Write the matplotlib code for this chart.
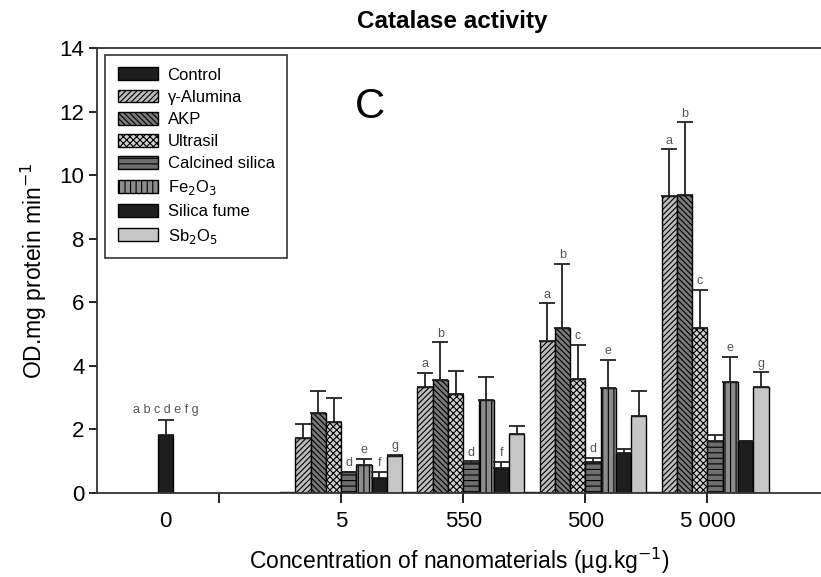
import matplotlib.pyplot as plt
import numpy as np

plt.rcParams['font.family'] = ['Liberation Sans', 'DejaVu Sans']
plt.rcParams['hatch.linewidth'] = 0.8

# concentrations (x tick labels) and series
concentrations = ['0', '5', '550', '500', '5 000']
group_pos = [1, 2, 3, 4, 5]

control = [1.83, 0.03, 0.03, 0.04, 0.03]
control_err = [0.47, 0, 0, 0, 0]

treatments = ['γ-Alumina', 'AKP', 'Ultrasil', 'Calcined silica',
              'Fe$_2$O$_3$', 'Silica fume', 'Sb$_2$O$_5$']
means = {
    'γ-Alumina':       [1.72, 3.32, 4.79, 9.35],
    'AKP':             [2.51, 3.56, 5.18, 9.39],
    'Ultrasil':        [2.22, 3.11, 3.60, 5.18],
    'Calcined silica': [0.67, 0.93, 0.98, 1.64],
    'Fe$_2$O$_3$':     [0.87, 2.92, 3.30, 3.50],
    'Silica fume':     [0.48, 0.78, 1.27, 1.64],
    'Sb$_2$O$_5$':     [1.17, 1.87, 2.43, 3.32],
}
errs = {
    'γ-Alumina':       [0.45, 0.46, 1.18, 1.47],
    'AKP':             [0.69, 1.18, 2.03, 2.27],
    'Ultrasil':        [0.78, 0.74, 1.07, 1.22],
    'Calcined silica': [0.00, 0.07, 0.12, 0.19],
    'Fe$_2$O$_3$':     [0.21, 0.72, 0.89, 0.79],
    'Silica fume':     [0.19, 0.20, 0.11, 0.00],
    'Sb$_2$O$_5$':     [0.03, 0.24, 0.77, 0.48],
}
# significance letters per treatment for groups 5, 550, 500, 5000
letters = {
    'γ-Alumina':       ['', 'a', 'a', 'a'],
    'AKP':             ['', 'b', 'b', 'b'],
    'Ultrasil':        ['', '', 'c', 'c'],
    'Calcined silica': ['d', 'd', 'd', ''],
    'Fe$_2$O$_3$':     ['e', '', 'e', 'e'],
    'Silica fume':     ['f', 'f', '', ''],
    'Sb$_2$O$_5$':     ['g', '', '', 'g'],
}

styles = {
    'γ-Alumina':       dict(color='#bdbdbd', hatch='//////'),
    'AKP':             dict(color='#7a7a7a', hatch='\\\\\\\\\\\\'),
    'Ultrasil':        dict(color='#d0d0d0', hatch='xxxxx'),
    'Calcined silica': dict(color='#6e6e6e', hatch='---'),
    'Fe$_2$O$_3$':     dict(color='#8c8c8c', hatch='|||'),
    'Silica fume':     dict(color='#1e1e1e', hatch=None),
    'Sb$_2$O$_5$':     dict(color='#c6c6c6', hatch=None),
}

fig = plt.figure(figsize=(8.21, 5.77), dpi=100)
ax = fig.add_axes([97 / 821, 84 / 577, 724 / 821, 445 / 577])

w = 0.125
ekw = dict(ecolor='#222222', elinewidth=1.3, capsize=6, capthick=1.3)
letter_kw = dict(ha='center', va='bottom', fontsize=9, color='#555555')

xc = np.array(group_pos) - 3.5 * w
ax.bar(xc, control, w, color='#1e1e1e', edgecolor='black', linewidth=1,
       label='Control', zorder=2)
ax.errorbar(xc[:1], control[:1], yerr=[[0], control_err[:1]], fmt='none', zorder=3, **ekw)
ax.text(xc[0], control[0] + control_err[0] + 0.12, 'a b c d e f g', **letter_kw)

gx = np.array(group_pos[1:])
for i, name in enumerate(treatments):
    x = gx + (i - 2.5) * w
    st = styles[name]
    ax.bar(x, means[name], w, color=st['color'], hatch=st['hatch'],
           edgecolor='black', linewidth=1, label=name, zorder=2)
    e = errs[name]
    ax.errorbar(x, means[name], yerr=[np.zeros(len(e)), e], fmt='none', zorder=3, **ekw)
    for xi, m, ei, lt in zip(x, means[name], e, letters[name]):
        if lt:
            ax.text(xi, m + ei + 0.08, lt, **letter_kw)

ax.set_xlim(0, 5.93)
ax.set_ylim(0, 14)
ax.set_yticks(range(0, 15, 2))
ax.set_xticks([1, 2, 3, 4, 5])
ax.set_xticklabels([''] + concentrations[1:])
ax.set_xticks([xc[0]], minor=True)
ax.set_xticklabels([concentrations[0]], minor=True)
ax.tick_params(axis='x', which='minor', length=0, pad=13, labelsize=16)
ax.tick_params(axis='x', which='major', length=7, width=1.2, pad=6, labelsize=16)
ax.tick_params(axis='y', length=6, width=1.2, pad=3, labelsize=16)
ax.spines['right'].set_visible(False)
for s in ['left', 'bottom', 'top']:
    ax.spines[s].set_linewidth(1.3)
    ax.spines[s].set_color('#333333')

ax.set_xlabel('Concentration of nanomaterials (µg.kg$^{-1}$)', fontsize=16.5, labelpad=10)
ax.set_ylabel('OD.mg protein min$^{-1}$', fontsize=16.5, labelpad=8)
fig.text(0.551, 0.962, 'Catalase activity', ha='center', va='center',
         fontsize=17.5, fontweight='bold')
ax.text((370 - 97) / 724, 0.868, 'C', transform=ax.transAxes,
        ha='center', va='center', fontsize=30)

leg = ax.legend(loc='upper left', bbox_to_anchor=(8 / 724, (493 - 55) / 445),
                borderaxespad=0, fontsize=12,
                frameon=True, fancybox=False, edgecolor='black',
                handlelength=2.4, handleheight=0.8, labelspacing=0.42,
                borderpad=0.75, handletextpad=0.6)
leg.get_frame().set_linewidth(1.2)

fig.savefig('out.png', dpi=100)
